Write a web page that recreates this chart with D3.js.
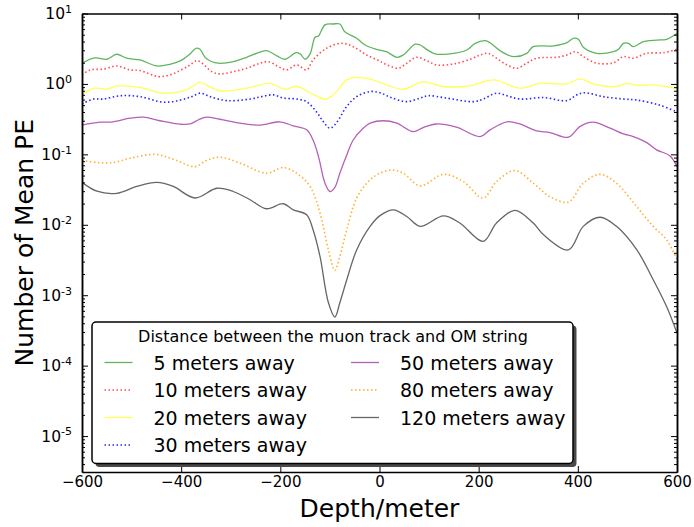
<!DOCTYPE html>
<html>
<head>
<meta charset="utf-8">
<script src="https://cdn.jsdelivr.net/npm/d3@7"></script>
<style>
  body { margin: 0; background: #fff; }
  text { font-family: "DejaVu Sans", sans-serif; }
</style>
</head>
<body>
<div id="chart"></div>
<script>
// Mean PE vs depth, [depth (m), mean PE]
const pe5 = [[-600,1.97],[-574,2.34],[-550,2.24],[-530,2.64],[-510,2.32],[-483,2.19],[-449,1.80],[-423,1.90],[-402,2.12],[-382,2.67],[-370,3.21],[-362,3.10],[-350,2.32],[-325,1.97],[-295,2.07],[-268,2.39],[-248,2.72],[-228,2.97],[-207,2.50],[-191,2.24],[-168,2.78],[-160,2.67],[-150,2.24],[-140,2.67],[-130,4.6],[-123,4.8],[-110,6.9],[-94,7.1],[-80,7.1],[-70,5.5],[-46,4.45],[-29,3.57],[-6,3.10],[14,2.87],[35,2.39],[48,2.58],[72,3.66],[82,3.57],[95,3.10],[112,2.67],[142,2.67],[176,3.03],[193,3.77],[213,4.11],[223,3.85],[246,2.87],[270,2.44],[297,2.72],[310,3.38],[351,3.46],[378,3.85],[391,4.45],[401,4.30],[411,3.32],[438,2.72],[472,2.87],[482,3.10],[492,3.77],[502,3.77],[512,3.38],[532,3.98],[559,4.20],[579,4.30],[600,5.2]];
const pe10 = [[-600,1.34],[-584,1.58],[-557,1.62],[-530,1.80],[-503,1.58],[-483,1.55],[-446,1.27],[-423,1.34],[-402,1.55],[-382,1.86],[-369,2.14],[-359,2.0],[-338,1.49],[-322,1.39],[-295,1.49],[-268,1.67],[-241,1.97],[-224,2.07],[-204,1.76],[-188,1.58],[-167,1.86],[-147,1.58],[-134,2.19],[-107,3.2],[-76,3.78],[-53,3.38],[-26,2.58],[1,2.1],[8,1.97],[38,1.67],[55,1.97],[75,2.39],[95,2.14],[115,1.86],[149,1.92],[183,2.24],[203,2.58],[219,2.72],[236,2.32],[257,1.86],[277,1.67],[297,1.97],[317,2.32],[357,2.39],[378,2.58],[396,2.87],[411,2.44],[438,1.97],[472,2.0],[492,2.44],[512,2.32],[539,2.72],[573,2.78],[600,3.10]];
const pe20 = [[-600,0.71],[-574,0.87],[-550,0.84],[-530,0.94],[-486,0.90],[-436,0.74],[-402,0.78],[-382,0.87],[-362,1.06],[-350,0.97],[-322,0.80],[-268,0.87],[-221,1.02],[-191,0.84],[-167,0.92],[-140,0.75],[-110,0.61],[-93,0.70],[-66,1.14],[-46,1.24],[-19,1.17],[14,0.97],[48,0.84],[88,1.07],[129,0.92],[183,0.94],[230,1.14],[283,0.87],[324,1.02],[378,1.0],[404,1.18],[438,0.97],[478,0.92],[499,1.02],[519,0.96],[552,0.97],[600,0.86]];
const pe30 = [[-600,0.52],[-577,0.61],[-557,0.61],[-523,0.68],[-483,0.66],[-436,0.55],[-402,0.59],[-379,0.66],[-361,0.74],[-342,0.66],[-308,0.58],[-261,0.61],[-238,0.66],[-214,0.70],[-194,0.63],[-167,0.61],[-147,0.56],[-127,0.40],[-113,0.29],[-100,0.235],[-87,0.28],[-66,0.48],[-46,0.66],[-19,0.78],[1,0.75],[21,0.65],[55,0.56],[82,0.63],[98,0.68],[135,0.63],[189,0.56],[209,0.61],[236,0.74],[257,0.68],[283,0.61],[331,0.64],[378,0.58],[398,0.70],[414,0.75],[451,0.66],[492,0.61],[519,0.59],[565,0.50],[600,0.40]];
const pe50 = [[-600,0.26],[-564,0.286],[-537,0.29],[-503,0.326],[-476,0.337],[-443,0.30],[-402,0.268],[-382,0.27],[-365,0.31],[-349,0.337],[-322,0.315],[-281,0.277],[-241,0.26],[-201,0.29],[-174,0.254],[-147,0.223],[-134,0.16],[-123,0.093],[-110,0.039],[-100,0.0297],[-90,0.034],[-80,0.054],[-66,0.098],[-53,0.16],[-33,0.235],[-19,0.277],[8,0.30],[35,0.277],[68,0.21],[88,0.24],[115,0.27],[155,0.243],[203,0.179],[223,0.223],[257,0.29],[283,0.27],[317,0.215],[344,0.204],[381,0.175],[404,0.248],[431,0.286],[465,0.235],[492,0.195],[512,0.179],[539,0.147],[559,0.116],[586,0.095],[600,0.067]];
const pe80 = [[-600,0.082],[-570,0.0766],[-537,0.0766],[-503,0.088],[-453,0.10],[-416,0.0855],[-372,0.067],[-349,0.082],[-322,0.091],[-281,0.075],[-228,0.054],[-194,0.065],[-167,0.054],[-140,0.035],[-120,0.0147],[-103,0.0044],[-90,0.00225],[-80,0.00355],[-66,0.0085],[-46,0.024],[-19,0.0435],[1,0.054],[25,0.060],[48,0.054],[82,0.0357],[129,0.052],[169,0.041],[209,0.024],[236,0.041],[273,0.059],[310,0.039],[344,0.025],[381,0.021],[411,0.039],[445,0.052],[478,0.039],[519,0.018],[552,0.0095],[579,0.0061],[600,0.0032]];
const pe120 = [[-600,0.040],[-570,0.030],[-530,0.028],[-490,0.035],[-449,0.040],[-416,0.035],[-372,0.024],[-328,0.033],[-295,0.0297],[-261,0.0227],[-228,0.0169],[-194,0.0199],[-174,0.0163],[-147,0.0139],[-134,0.0085],[-120,0.00355],[-103,0.00078],[-90,0.00049],[-80,0.00078],[-66,0.00166],[-46,0.0044],[-19,0.0095],[1,0.0135],[28,0.0163],[55,0.0131],[82,0.0095],[129,0.0134],[162,0.0106],[209,0.0058],[236,0.0106],[273,0.016],[310,0.0106],[331,0.0072],[381,0.0044],[411,0.0095],[445,0.0128],[478,0.0095],[519,0.0044],[552,0.00166],[579,0.00069],[600,0.00029]];

const seriesLabels = ["5 meters away", "10 meters away", "20 meters away", "30 meters away",
                      "50 meters away", "80 meters away", "120 meters away"];
const xTicks = [-600, -400, -200, 0, 200, 400, 600];
const yExponents = [-5, -4, -3, -2, -1, 0, 1];

const allSeries = [pe5, pe10, pe20, pe30, pe50, pe80, pe120];
const colors = ["#5fb55f", "#ff4d4d", "#ffff55", "#2626ff", "#b560b5", "#ffb030", "#666666"];
const dashed = [false, true, false, true, false, true, false];

const W = 694, H = 527;
const margin = { top: 13.5, right: 17, bottom: 55, left: 82 };

const svg = d3.select("#chart").append("svg")
    .attr("width", W).attr("height", H);

const x = d3.scaleLinear().domain([-600, 600]).range([margin.left, W - margin.right]);
const y = d3.scaleLog().domain([3.09e-6, 10]).range([H - margin.bottom, margin.top]);

// clip for the curves
svg.append("clipPath").attr("id", "plotclip")
  .append("rect")
    .attr("x", margin.left).attr("y", margin.top)
    .attr("width", W - margin.left - margin.right)
    .attr("height", H - margin.top - margin.bottom);

const line = d3.line()
    .x(d => x(d[0]))
    .y(d => y(d[1]))
    .curve(d3.curveCatmullRom.alpha(0.5));

svg.append("g").attr("clip-path", "url(#plotclip)")
  .selectAll("path")
  .data(allSeries)
  .join("path")
    .attr("fill", "none")
    .attr("stroke", (d, i) => colors[i])
    .attr("stroke-width", (d, i) => dashed[i] ? 1.6 : 1.3)
    .attr("stroke-dasharray", (d, i) => dashed[i] ? "1.5,2.5" : null)
    .attr("d", line);

// minor log ticks
const minors = [];
for (let e = -6; e <= 0; e++) {
  for (let m = 2; m <= 9; m++) {
    const v = m * Math.pow(10, e);
    if (v >= 3.09e-6 && v <= 10) minors.push(v);
  }
}
const majors = yExponents.map(e => Math.pow(10, e));

function styleAxis(g) {
  g.select(".domain").attr("stroke", "#000").attr("stroke-width", 1.5);
  g.selectAll(".tick line").attr("stroke", "#000").attr("stroke-width", 1);
}

// bottom
svg.append("g")
    .attr("transform", `translate(0,${H - margin.bottom})`)
    .call(d3.axisBottom(x).tickValues(xTicks).tickSizeInner(-6).tickSizeOuter(0).tickPadding(4.5))
    .call(styleAxis)
    .call(g => g.selectAll("text").attr("font-size", 15).attr("fill", "#000"));
// top
svg.append("g")
    .attr("transform", `translate(0,${margin.top})`)
    .call(d3.axisTop(x).tickValues(xTicks).tickSizeInner(-6).tickSizeOuter(0).tickFormat(""))
    .call(styleAxis);

// left major with 10^n labels
svg.append("g")
    .attr("transform", `translate(${margin.left},0)`)
    .call(d3.axisLeft(y).tickValues(majors).tickSizeInner(-6).tickSizeOuter(0).tickPadding(10))
    .call(styleAxis)
    .call(g => g.selectAll("text")
        .attr("font-size", 15.5).attr("fill", "#000")
        .text(null)
        .each(function(d) {
          const t = d3.select(this);
          t.append("tspan").text("10");
          t.append("tspan").attr("dy", "-0.55em").attr("font-size", 11)
            .text(Math.round(Math.log10(d)));
        }));
svg.append("g")
    .attr("transform", `translate(${margin.left},0)`)
    .call(d3.axisLeft(y).tickValues(minors).tickSizeInner(-3).tickSizeOuter(0).tickFormat(""))
    .call(styleAxis);
// right
svg.append("g")
    .attr("transform", `translate(${W - margin.right},0)`)
    .call(d3.axisRight(y).tickValues(majors).tickSizeInner(-6).tickSizeOuter(0).tickFormat(""))
    .call(styleAxis);
svg.append("g")
    .attr("transform", `translate(${W - margin.right},0)`)
    .call(d3.axisRight(y).tickValues(minors).tickSizeInner(-3).tickSizeOuter(0).tickFormat(""))
    .call(styleAxis);

// axis titles
svg.append("text")
    .attr("x", (x(-600) + x(600)) / 2).attr("y", 517)
    .attr("text-anchor", "middle").attr("font-size", 25)
    .text("Depth/meter");
svg.append("text")
    .attr("transform", `translate(33,${(y(10) + y(3.09e-6)) / 2}) rotate(-90)`)
    .attr("text-anchor", "middle").attr("font-size", 25)
    .text("Number of Mean PE");

// legend
const lg = svg.append("g");
const lx = 92, ly = 322, lw = 481, lh = 141.5;
lg.append("rect").attr("x", lx + 3.5).attr("y", ly + 3.5).attr("width", lw).attr("height", lh)
    .attr("rx", 4).attr("fill", "#4a4a4a");
lg.append("rect").attr("x", lx).attr("y", ly).attr("width", lw).attr("height", lh)
    .attr("rx", 4).attr("fill", "#fff").attr("stroke", "#000").attr("stroke-width", 1.5);
lg.append("text")
    .attr("x", 333).attr("y", 342)
    .attr("text-anchor", "middle").attr("font-size", 16)
    .text("Distance between the muon track and OM string");

const rowY = i => 362.5 + (i % 4) * 27.5;
const colX = i => i < 4 ? 104.5 : 351;
const item = lg.selectAll("g.item")
  .data(seriesLabels)
  .join("g").attr("class", "item");
item.append("line")
    .attr("x1", (d, i) => colX(i)).attr("x2", (d, i) => colX(i) + 28)
    .attr("y1", (d, i) => rowY(i)).attr("y2", (d, i) => rowY(i))
    .attr("stroke", (d, i) => colors[i])
    .attr("stroke-width", (d, i) => dashed[i] ? 1.6 : 1.3)
    .attr("stroke-dasharray", (d, i) => dashed[i] ? "1.5,2.5" : null);
item.append("text")
    .attr("x", (d, i) => colX(i) + 49)
    .attr("y", (d, i) => rowY(i) + 7.3)
    .attr("font-size", 19)
    .text(d => d);
</script>
</body>
</html>
